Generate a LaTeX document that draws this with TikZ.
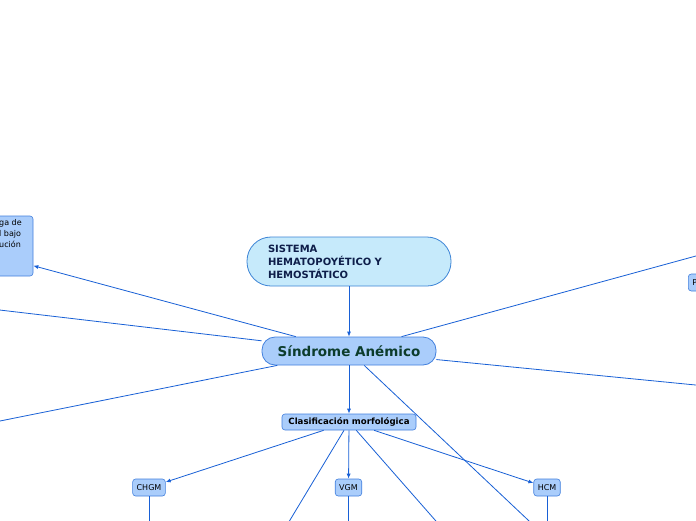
\documentclass[tikz,border=0pt]{standalone}
\usepackage{fontspec}
\setmainfont{DejaVu Sans}
\usetikzlibrary{arrows.meta, positioning}
\definecolor{mmLine}{RGB}{24,96,214}
\definecolor{mmFill}{RGB}{170,205,251}
\definecolor{mmBorder}{RGB}{66,128,222}
\definecolor{mmTopFill}{RGB}{198,234,251}
\definecolor{mmTopBorder}{RGB}{60,132,214}
\definecolor{mmGreen}{RGB}{12,60,44}
\definecolor{mmNavy}{RGB}{14,30,74}
\tikzset{
    >={Latex[length=5pt,width=4pt]},
    mm_top/.style={
        rectangle,
        rounded corners=24pt,
        draw=mmTopBorder,
        fill=mmTopFill,
        line width=0.8pt,
        minimum height=49pt,
        text width=162pt,
        inner xsep=21pt,
        align=left,
        text=mmNavy,
        font=\fontsize{10}{13}\selectfont\bfseries
    },
    mm_central/.style={
        rectangle,
        rounded corners=13pt,
        draw=mmBorder,
        fill=mmFill,
        line width=0.8pt,
        minimum width=174pt,
        minimum height=28pt,
        text=mmGreen,
        font=\fontsize{13.5}{16}\selectfont\bfseries
    },
    mm_sub/.style={
        rectangle,
        rounded corners=3pt,
        draw=mmBorder,
        fill=mmFill,
        line width=0.6pt,
        minimum width=134pt,
        minimum height=16pt,
        inner sep=2pt,
        font=\fontsize{8.6}{10}\selectfont\bfseries
    },
    mm_leaf/.style={
        rectangle,
        rounded corners=3pt,
        draw=mmBorder,
        fill=mmFill,
        line width=0.6pt,
        minimum height=17pt,
        inner xsep=4pt,
        inner ysep=2pt,
        font=\fontsize{8}{10}\selectfont
    },
    mm_arrow/.style={
        ->,
        draw=mmLine,
        line width=0.8pt
    },
    mm_line/.style={
        draw=mmLine,
        line width=0.8pt
    }
}

\begin{document}
\begin{tikzpicture}[x=1pt, y=-1pt]
\useasboundingbox (0,0) rectangle (696,520);
\fill[white] (0,0) rectangle (696,520);

% main topics
\node[mm_top] (Sistema) at (349,261.5) {SISTEMA\\HEMATOPOYÉTICO Y\\HEMOSTÁTICO};
\node[mm_central] (Sindrome) at (349,351) {Síndrome Anémico};
\node[mm_sub] (Clasif) at (349,422) {Clasificación morfológica};

% indices
\node[mm_leaf] (CHGM) at (149,487.5) {CHGM};
\node[mm_leaf] (VGM) at (348.5,487.5) {VGM};
\node[mm_leaf] (HCM) at (547,487.5) {HCM};

% cut off topics at the edges
\node[mm_leaf, minimum width=146pt, minimum height=60pt] (Sobre) at (-40,246) {};
\node[anchor=north west, align=left, inner sep=0pt,
  font=\fontsize{8}{11}\selectfont] (SobreTxt) at (-1,219) {ga de\\l bajo\\ución};
\node[mm_leaf, anchor=west, text width=40pt, align=left] (Prev) at (688,282.5) {P};

\coordinate (offLeftA) at (-20,307.7);
\coordinate (offLeftB) at (-20,425);
\coordinate (offRightA) at (716,250.5);
\coordinate (offRightB) at (716,387);
\coordinate (offBottom) at (549.2,540);
\coordinate (offClasA) at (278,540);
\coordinate (offClasB) at (452.6,540);
\coordinate (downCHGM) at (149,540);
\coordinate (downVGM) at (348.5,540);
\coordinate (downHCM) at (547,540);

\draw[mm_arrow] (Sistema) -- (Sindrome);
\draw[mm_arrow] (Sindrome) -- (Sobre);
\draw[mm_line] (Sindrome) -- (offLeftA);
\draw[mm_line] (Sindrome) -- (offLeftB);
\draw[mm_line] (Sindrome) -- (offRightA);
\draw[mm_line] (Sindrome) -- (offRightB);
\draw[mm_line] (Sindrome) -- (offBottom);
\draw[mm_arrow] (Sindrome) -- (Clasif);

\draw[mm_arrow] (Clasif) -- (CHGM);
\draw[mm_arrow] (Clasif) -- (VGM);
\draw[mm_arrow] (Clasif) -- (HCM);
\draw[mm_line] (Clasif) -- (offClasA);
\draw[mm_line] (Clasif) -- (offClasB);

\draw[mm_line] (CHGM) -- (downCHGM);
\draw[mm_line] (VGM) -- (downVGM);
\draw[mm_line] (HCM) -- (downHCM);

\end{tikzpicture}
\end{document}
